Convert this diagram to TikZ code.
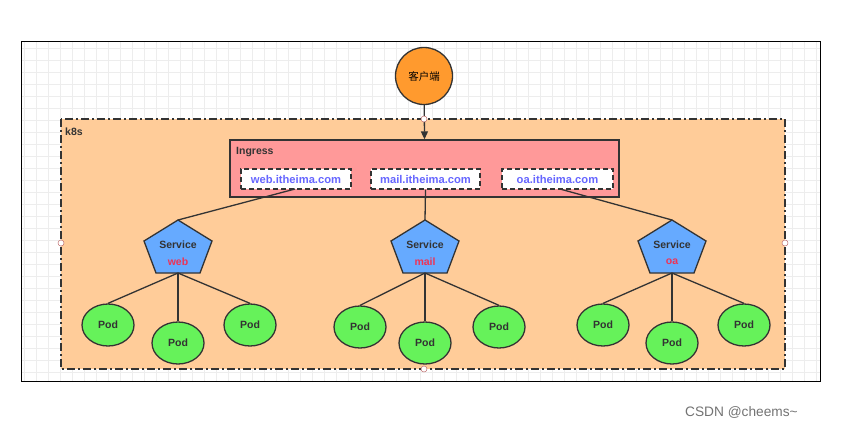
\documentclass[tikz,border=0pt]{standalone}
\usepackage{fontspec}
\setmainfont{Liberation Sans}
\newfontfamily\cjk{Noto Sans CJK SC}
\usetikzlibrary{arrows.meta,shapes.geometric}
\definecolor{peach}{HTML}{FFCC99}
\definecolor{ingressfill}{HTML}{FF9999}
\definecolor{clientfill}{HTML}{FF9A2E}
\definecolor{svcfill}{HTML}{66AAFF}
\definecolor{podfill}{HTML}{66F25A}
\definecolor{svcred}{HTML}{EE3355}
\definecolor{hostblue}{HTML}{6666FF}
\definecolor{edge}{HTML}{333333}
\definecolor{gridc}{HTML}{EDEDED}
\definecolor{handle}{HTML}{C07070}
\tikzset{
  conn/.style={draw=edge, line width=1.3pt},
  pod/.style={ellipse, draw=edge, line width=1.3pt, fill=podfill, minimum width=52pt, minimum height=42pt, inner sep=0pt, font=\bfseries\fontsize{10.5}{12}\selectfont, text=edge},
  hostbox/.style={draw=edge, dashed, dash pattern=on 5pt off 3pt, line width=1.3pt, fill=white, minimum height=20pt, inner sep=0pt, font=\bfseries\fontsize{11.2}{13}\selectfont, text=hostblue},
  grip/.style={circle, draw=handle, fill=white, line width=0.5pt, minimum size=6pt, inner sep=0pt},
  lbl/.style={font=\bfseries\fontsize{10.5}{12}\selectfont, text=edge, inner sep=0pt, anchor=west},
}
\newcommand{\svcshape}[4]{% name, cx, label, dummy
  \filldraw[fill=svcfill, draw=edge, line width=1.3pt] (#2,220) -- (#2+34,241) -- (#2+22,273) -- (#2-22,273) -- (#2-34,241) -- cycle;
  \coordinate (#1top) at (#2,220);
  \coordinate (#1bot) at (#2,273);
  \node[font=\bfseries\fontsize{10.5}{12}\selectfont, text=edge, inner sep=0pt] at (#2,244.5) {Service};
  \node[font=\bfseries\fontsize{10.5}{12}\selectfont, text=svcred, inner sep=0pt] at (#2,261.5) {#3};
}
\begin{document}
\begin{tikzpicture}[x=1pt,y=-1pt]
\useasboundingbox (0,0) rectangle (851,429);
\fill[white] (0,0) rectangle (851,429);
% grid
\begin{scope}
\clip (21,41) rectangle (820,381);
\draw[gridc, line width=0.5pt] (21,41) grid[step=12pt] (820,381);
\end{scope}
\draw[black, line width=0.8pt] (21,41) rectangle (820,381);
% k8s container
\draw[fill=peach, draw=edge, line width=1.3pt, dash pattern=on 8pt off 3pt on 2pt off 3pt] (61,119) rectangle (785,369);
\node[lbl] (k8s) at (65,132) {k8s};
% client
\node[circle, draw=edge, line width=1.3pt, fill=clientfill, minimum size=57pt, inner sep=0pt, font=\cjk\fontsize{10.5}{12}\selectfont] (client) at (424,76) {客户端};
% ingress
\node[rectangle, draw=edge, line width=1.3pt, fill=ingressfill, minimum width=389pt, minimum height=57pt, inner sep=0pt] (ingress) at (424.5,168.5) {};
\node[lbl] (inglbl) at (236,152) {Ingress};
\draw[conn, -{Triangle[length=8pt,width=7pt]}] (client) -- (ingress.north);
% hosts
\node[hostbox, minimum width=110pt] (hweb) at (296,179) {web.itheima.com};
\node[hostbox, minimum width=109pt] (hmail) at (425.5,179) {mail.itheima.com};
\node[hostbox, minimum width=111pt] (hoa) at (557.5,179) {oa.itheima.com};
% services
\svcshape{sweb}{178}{web}{}
\svcshape{smail}{425}{mail}{}
\svcshape{soa}{672}{oa}{}
\draw[conn] (295,189) -- (swebtop);
\draw[conn] (hmail.south) -- (smailtop);
\draw[conn] (560,189) -- (soatop);
% pods
\node[pod] (p1) at (108,325) {Pod};
\node[pod] (p2) at (178,343) {Pod};
\node[pod] (p3) at (250,325) {Pod};
\node[pod] (p4) at (360,327) {Pod};
\node[pod] (p5) at (425,343) {Pod};
\node[pod] (p6) at (499,327) {Pod};
\node[pod] (p7) at (603,325) {Pod};
\node[pod] (p8) at (672,343) {Pod};
\node[pod] (p9) at (744,325) {Pod};
\foreach \s/\a/\b/\c in {sweb/p1/p2/p3, smail/p4/p5/p6, soa/p7/p8/p9}{
  \draw[conn] (\s bot) -- (\a.north);
  \draw[conn] (\s bot) -- (\b.north);
  \draw[conn] (\s bot) -- (\c.north);
}
% handles
\node[grip] (g1) at (424,119) {};
\node[grip] (g2) at (61,243) {};
\node[grip] (g3) at (785,243) {};
\node[grip] (g4) at (424,369) {};
% watermark
\node[font=\fontsize{13.7}{15}\selectfont, text=black!55, inner sep=0pt, anchor=west] (wm) at (685,412) {CSDN @cheems\textasciitilde};
\end{tikzpicture}
\end{document}
